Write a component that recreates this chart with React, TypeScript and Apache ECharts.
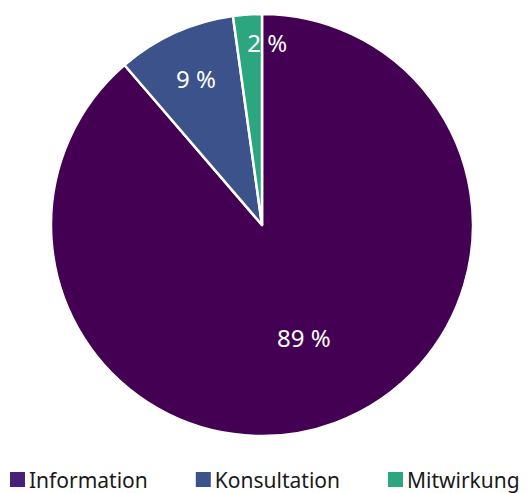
import React, { useEffect, useRef } from "react";
import * as echarts from "echarts";

const categories = ["Information", "Konsultation", "Mitwirkung"];
const values = [88.7, 9.1, 2.2];
const colors = ["#440154", "#3b528b", "#2ba67f"];
const legendColors = ["#4a1f78", "#3b528b", "#2ba67f"];

// label placement (fraction of radius from center, alignment)
const labelRadius = [0.57, 0.76, 0.867];
const labelAlign = ["center", "center", "left"];

const CX = 262;
const CY = 225;
const R = 211;

export default function App() {
  const ref = useRef<HTMLDivElement>(null);
  useEffect(() => {
    document.body.style.margin = "0";
    const chart = echarts.init(ref.current!, null, { renderer: "svg" });
    const total = values.reduce((a, b) => a + b, 0);
    const mids: number[] = [];
    let acc = 0;
    values.forEach((v) => {
      mids.push(((acc + v / 2) / total) * 2 * Math.PI);
      acc += v;
    });
    chart.setOption({
      animation: false,
      textStyle: { fontFamily: "Noto Sans" },
      legend: {
        data: categories.map((c, i) => ({ name: c, itemStyle: { color: legendColors[i] } })),
        left: 8,
        top: 469,
        itemWidth: 17,
        itemHeight: 17,
        itemGap: 46,
        icon: "rect",
        padding: 0,
        textStyle: { fontSize: 21, lineHeight: 21, color: "#1a1a1a", fontFamily: "Noto Sans", padding: [0, 0, 0, -2] },
      },
      series: [
        {
          type: "pie",
          center: [CX, CY],
          radius: [0, R],
          startAngle: 90,
          clockwise: true,
          data: categories.map((c, i) => ({
            name: c,
            value: values[i],
            itemStyle: { color: colors[i] },
          })),
          itemStyle: { borderColor: "#ffffff", borderWidth: 2.5 },
          label: {
            show: true,
            position: "inside",
            color: "#ffffff",
            fontSize: 24,
            fontFamily: "Noto Sans",
            formatter: (p: any) => Math.round(p.value) + " %",
          },
          labelLine: { show: false },
          labelLayout: (p: any) => {
            const i = p.dataIndex;
            const a = mids[i];
            const r = labelRadius[i] * R;
            return {
              x: CX + r * Math.sin(a) + (i === 2 ? -2 : 0),
              y: CY - r * Math.cos(a),
              align: labelAlign[i],
              verticalAlign: "middle",
            };
          },
          emphasis: { disabled: true },
        },
      ],
    });
    return () => chart.dispose();
  }, []);
  return <div ref={ref} style={{ width: 532, height: 493 }} />;
}
